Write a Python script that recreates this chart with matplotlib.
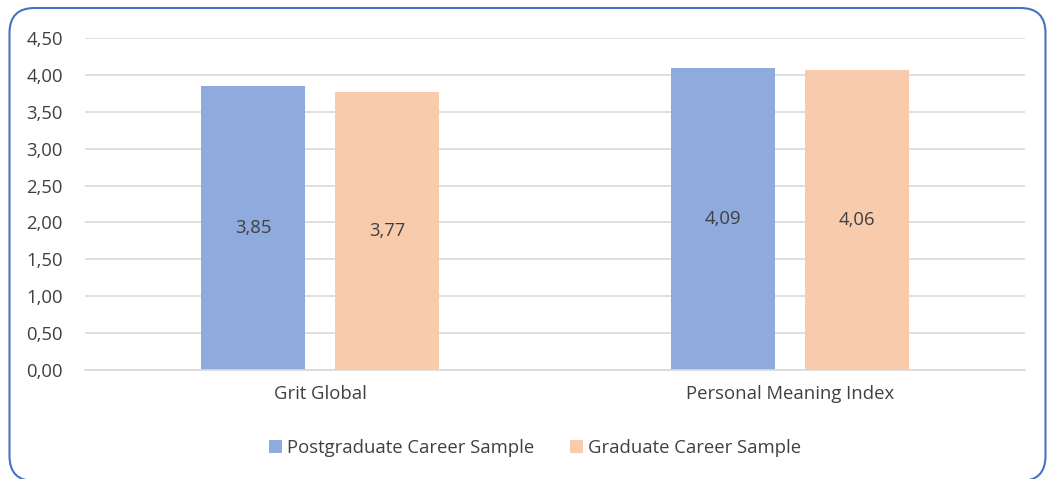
import numpy as np
import matplotlib.pyplot as plt
from matplotlib.patches import FancyBboxPatch

categories = ['Grit Global', 'Personal Meaning Index']
series_names = ['Postgraduate Career Sample', 'Graduate Career Sample']
postgrad = [3.85, 4.09]
graduate = [3.77, 4.06]
colors = ['#8FAADC', '#F8CBAD']

plt.rcParams['font.family'] = ['Open Sans', 'DejaVu Sans']
txt = '#404040'
fs = 13.3

fig = plt.figure(figsize=(10.47, 4.79), dpi=100)
ax = fig.add_axes([0.0812, 0.2276, 0.8978, 0.6931])

x = np.arange(len(categories))
w = 0.223
off = 0.1426
b1 = ax.bar(x - off, postgrad, w, color=colors[0], label=series_names[0], zorder=2)
b2 = ax.bar(x + off, graduate, w, color=colors[1], label=series_names[1], zorder=2)

# value labels in the middle of each bar
for bars, vals in ((b1, postgrad), (b2, graduate)):
    for r, v in zip(bars, vals):
        ax.text(r.get_x() + r.get_width() / 2, v / 2, f'{v:.2f}'.replace('.', ','),
                ha='center', va='center', fontsize=fs, color=txt)

ax.set_xlim(-0.5, 1.5)
ax.set_ylim(0, 4.5)
ticks = np.arange(0, 4.51, 0.5)
ax.set_yticks(ticks)
ax.set_yticklabels([f'{t:.2f}'.replace('.', ',') for t in ticks], fontsize=fs, color=txt)
ax.set_xticks(x)
ax.set_xticklabels(categories, fontsize=fs, color=txt)
ax.tick_params(axis='x', length=0, pad=11)
ax.tick_params(axis='y', length=0, pad=16)
ax.yaxis.grid(True, color='#D9D9D9', linewidth=1.2, zorder=0)
ax.set_axisbelow(True)
for s in ['top', 'right', 'left']:
    ax.spines[s].set_visible(False)
ax.spines['bottom'].set_color('#D9D9D9')
ax.spines['bottom'].set_linewidth(1.2)

fig.legend(handles=[b1, b2], loc='center', bbox_to_anchor=(0.511, 0.064), ncol=2,
           frameon=False, fontsize=fs, handlelength=0.7, handleheight=0.7,
           handletextpad=0.3, columnspacing=1.9, labelcolor=txt)

# rounded chart border, in inches (1 px = 0.01 in)
box = FancyBboxPatch((0.095, -0.02), 10.36, 4.73,
                     boxstyle='round,pad=0,rounding_size=0.25',
                     transform=fig.dpi_scale_trans, fill=False,
                     edgecolor='#4472C4', linewidth=1.5)
fig.add_artist(box)

fig.savefig('out.png', dpi=100)
